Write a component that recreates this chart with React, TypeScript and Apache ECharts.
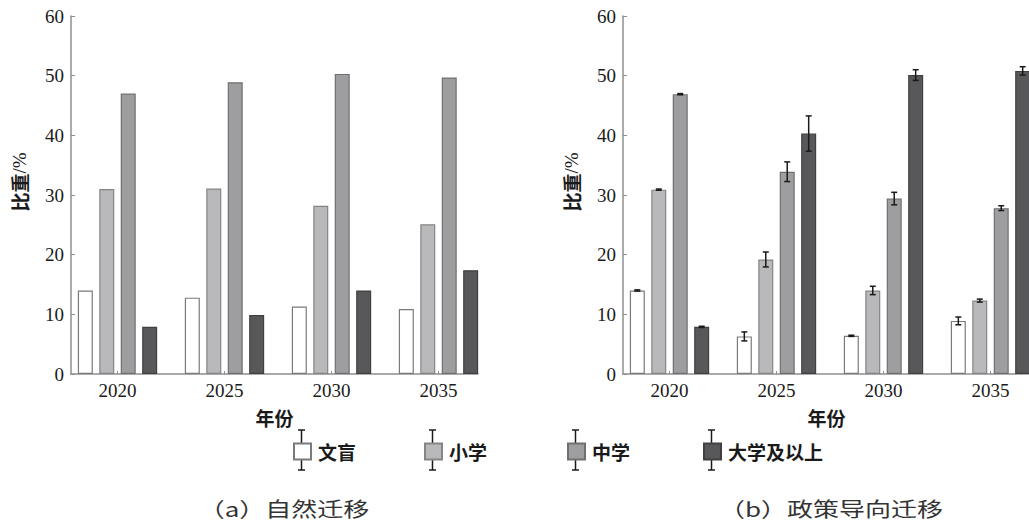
import React, { useEffect, useRef } from "react";
import * as echarts from "echarts";

// ---- data ----
const years = ["2020", "2025", "2030", "2035"];
const levels = ["文盲", "小学", "中学", "大学及以上"];

// (a) natural migration
const naturalIlliterate = [14.0, 12.8, 11.3, 10.9];
const naturalPrimary = [31.0, 31.1, 28.2, 25.1];
const naturalSecondary = [47.0, 48.9, 50.3, 49.7];
const naturalCollege = [7.9, 9.9, 14.0, 17.4];

// (b) policy-oriented migration: values and error half-widths
const policyIlliterate = [14.0, 6.3, 6.4, 8.9];
const policyIlliterateErr = [0.1, 0.75, 0.1, 0.65];
const policyPrimary = [30.9, 19.2, 14.0, 12.3];
const policyPrimaryErr = [0.1, 1.25, 0.7, 0.25];
const policySecondary = [46.9, 33.9, 29.4, 27.8];
const policySecondaryErr = [0.1, 1.65, 1.05, 0.4];
const policyCollege = [7.9, 40.3, 50.1, 50.8];
const policyCollegeErr = [0.1, 2.95, 0.9, 0.7];

const yTicks = { min: 0, max: 60, interval: 10 };

// ---- styles ----
const fills = ["#ffffff", "#b9b9bb", "#9e9ea0", "#58585a"];
const borders = ["#7a7a7a", "#858587", "#707072", "#404042"];
const axisGray = "#8f8f8f";
const serif = "Liberation Serif, DejaVu Serif, serif";
const cjk = "Noto Sans CJK SC, sans-serif";
const BAR_W = 15;
const BAR_GAP = 0.43;
const legendLeft = [293, 424, 567, 703];

function buildOption() {
  const natural = [naturalIlliterate, naturalPrimary, naturalSecondary, naturalCollege];
  const policy = [policyIlliterate, policyPrimary, policySecondary, policyCollege];
  const policyErr = [policyIlliterateErr, policyPrimaryErr, policySecondaryErr, policyCollegeErr];

  const gridTop = 16;
  const gridH = 358;
  const g = (left: number, width: number) => ({
    left,
    top: gridTop,
    width,
    height: gridH,
    outerBoundsMode: "none",
    containLabel: false,
  });
  const grids = [g(71, 407), g(64, 428), g(623, 407), g(616, 428)];

  const axisLineX = (gridIndex: number) => ({
    type: "category",
    gridIndex,
    data: years,
    axisLine: { show: true, lineStyle: { color: axisGray, width: 1.5 } },
    axisTick: { show: false },
    axisLabel: { show: false },
    name: "年份",
    nameLocation: "middle",
    nameGap: 34,
    nameTextStyle: { fontFamily: cjk, fontWeight: "bold", fontSize: 19, color: "#1a1a1a" },
  });
  const barX = (gridIndex: number) => ({
    type: "category",
    gridIndex,
    data: years,
    axisLine: { show: false },
    axisTick: { show: true, inside: true, length: 3, alignWithLabel: true, lineStyle: { color: axisGray } },
    axisLabel: { fontFamily: serif, fontSize: 19, color: "#1a1a1a", margin: 7 },
  });
  const visY = (gridIndex: number) => ({
    type: "value",
    gridIndex,
    ...yTicks,
    splitLine: { show: false },
    axisLine: { show: true, lineStyle: { color: axisGray, width: 1.5 } },
    axisTick: { show: true, inside: true, length: 4, lineStyle: { color: axisGray } },
    axisLabel: { fontFamily: serif, fontSize: 19, color: "#1a1a1a", margin: 7 },
    name: "{a|比重}{b|/%}",
    nameLocation: "middle",
    nameGap: 42,
    nameRotate: 90,
    nameTextStyle: {
      padding: [0, 0, 0, 26],
      rich: {
        a: { fontFamily: cjk, fontWeight: "bold", fontSize: 19, color: "#1a1a1a" },
        b: { fontFamily: serif, fontSize: 19, color: "#1a1a1a" },
      },
    },
  });
  const hidY = (gridIndex: number) => ({
    type: "value",
    gridIndex,
    ...yTicks,
    show: false,
    splitLine: { show: false },
  });

  const series: any[] = [];
  levels.forEach((name, i) => {
    series.push({
      type: "bar",
      name,
      xAxisIndex: 1,
      yAxisIndex: 1,
      data: natural[i],
      barWidth: BAR_W,
      barGap: BAR_GAP * 100 + "%",
      itemStyle: { color: fills[i], borderColor: borders[i], borderWidth: 1.2 },
    });
  });
  levels.forEach((name, i) => {
    series.push({
      type: "bar",
      name,
      xAxisIndex: 3,
      yAxisIndex: 3,
      data: policy[i],
      barWidth: BAR_W,
      barGap: BAR_GAP * 100 + "%",
      itemStyle: { color: fills[i], borderColor: borders[i], borderWidth: 1.2 },
    });
  });
  levels.forEach((name, i) => {
    const offset = (i - 1.5) * BAR_W * (1 + BAR_GAP);
    series.push({
      type: "custom",
      name: name + "误差",
      xAxisIndex: 3,
      yAxisIndex: 3,
      z: 5,
      encode: { x: 0, y: 1 },
      data: policy[i].map((v, k) => [k, v, policyErr[i][k]]),
      renderItem: (params: any, api: any) => {
        const k = api.value(0);
        const v = api.value(1);
        const e = api.value(2);
        const x = api.coord([k, v])[0] + offset;
        const yt = api.coord([k, v + e])[1];
        const yb = api.coord([k, v - e])[1];
        const st = { stroke: "#1a1a1a", lineWidth: 1.5 };
        return {
          type: "group",
          children: [
            { type: "line", shape: { x1: x, y1: yt, x2: x, y2: yb }, style: st },
            { type: "line", shape: { x1: x - 3, y1: yt, x2: x + 3, y2: yt }, style: st },
            { type: "line", shape: { x1: x - 3, y1: yb, x2: x + 3, y2: yb }, style: st },
          ],
        };
      },
    });
  });

  const legends = levels.map((name, i) => ({
    data: [name],
    left: legendLeft[i],
    top: 442,
    padding: 0,
    icon: "rect",
    itemWidth: 17,
    itemHeight: 16,
    selectedMode: false,
    textStyle: { fontFamily: cjk, fontWeight: "bold", fontSize: 19, color: "#1a1a1a", padding: [0, 0, 0, 2] },
  }));

  const legendBars = legendLeft.map((l) => {
    const x = l + 8.5;
    const st = { stroke: "#1a1a1a", lineWidth: 1.5 };
    return {
      type: "group",
      z: 100,
      children: [
        { type: "line", shape: { x1: x, y1: 430, x2: x, y2: 470 }, style: st },
        { type: "line", shape: { x1: x - 3.5, y1: 430, x2: x + 3.5, y2: 430 }, style: st },
        { type: "line", shape: { x1: x - 3.5, y1: 470, x2: x + 3.5, y2: 470 }, style: st },
      ],
    };
  });

  const captions = [
    { text: "（a）自然迁移", x: 284 },
    { text: "（b）政策导向迁移", x: 831 },
  ].map((c) => ({
    type: "text",
    x: c.x,
    y: 508,
    scaleX: 1.3,
    style: {
      text: c.text,
      textAlign: "center",
      textVerticalAlign: "middle",
      font: `20px ${cjk}`,
      fill: "#333333",
    },
  }));

  return {
    animation: false,
    backgroundColor: "#ffffff",
    grid: grids,
    xAxis: [axisLineX(0), barX(1), axisLineX(2), barX(3)],
    yAxis: [visY(0), hidY(1), visY(2), hidY(3)],
    legend: legends,
    series,
    graphic: [...legendBars, ...captions],
  };
}

export default function App() {
  const ref = useRef<HTMLDivElement>(null);
  useEffect(() => {
    if (!ref.current) return;
    const chart = echarts.init(ref.current, null, { renderer: "svg" });
    chart.setOption(buildOption() as any);
    return () => chart.dispose();
  }, []);
  return (
    <div
      style={{
        position: "fixed",
        left: 0,
        top: 0,
        width: 1029,
        height: 522,
        overflow: "hidden",
        background: "#fff",
      }}
    >
      <div ref={ref} style={{ width: 1060, height: 522 }} />
    </div>
  );
}
